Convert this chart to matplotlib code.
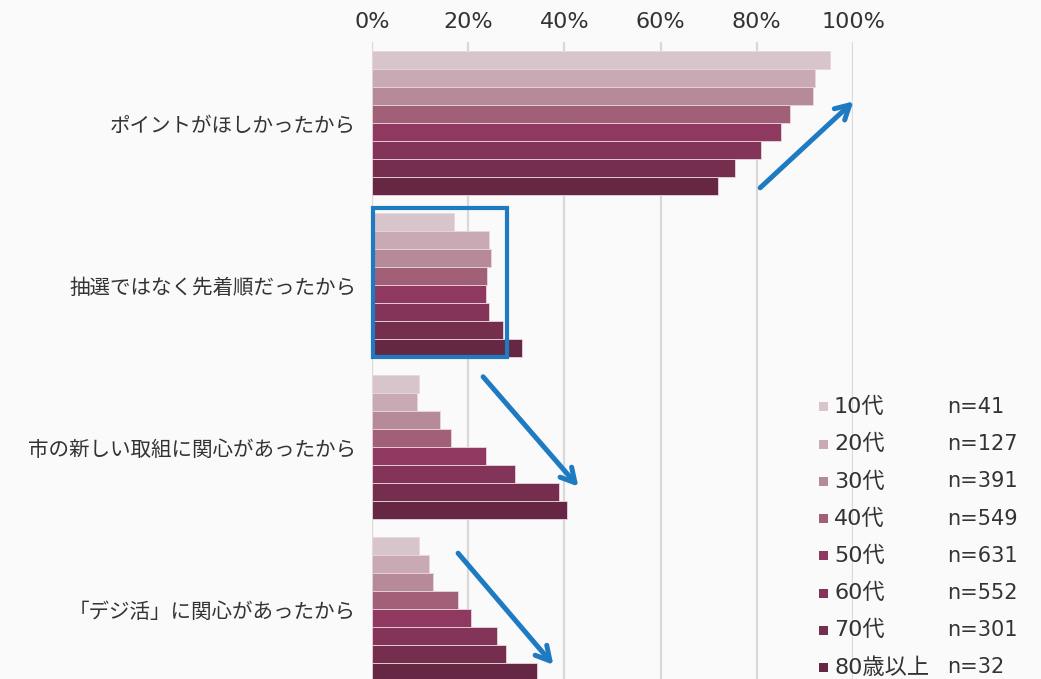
import matplotlib
matplotlib.use("Agg")
import matplotlib.pyplot as plt
from matplotlib.patches import Rectangle

plt.rcParams['font.family'] = ['Noto Sans CJK JP', 'DejaVu Sans']
LATIN = ['DejaVu Sans', 'Noto Sans CJK JP']

# ── data ─────────────────────────────────────────────
reasons = ["ポイントがほしかったから",
           "抽選ではなく先着順だったから",
           "市の新しい取組に関心があったから",
           "「デジ活」に関心があったから"]
ages = ["10代", "20代", "30代", "40代", "50代", "60代", "70代", "80歳以上"]
n_counts = [41, 127, 391, 549, 631, 552, 301, 32]

# percent per reason, one list per age group (10代 ... 80歳以上)
pct_10s = [95.3, 17.1, 9.8, 9.8]
pct_20s = [92.2, 24.3, 9.4, 11.8]
pct_30s = [91.7, 24.8, 14.2, 12.7]
pct_40s = [87.0, 24.0, 16.4, 17.8]
pct_50s = [85.0, 23.6, 23.8, 20.5]
pct_60s = [80.9, 24.4, 29.8, 25.9]
pct_70s = [75.5, 27.2, 38.9, 27.9]
pct_80s = [72.0, 31.2, 40.6, 34.3]
series = [pct_10s, pct_20s, pct_30s, pct_40s, pct_50s, pct_60s, pct_70s, pct_80s]

colors = ["#d8c5cb", "#c9aab4", "#b68a99", "#a25f78",
          "#8f3860", "#843459", "#762e4f", "#662745"]

BG = "#fafafa"
TXT = "#333333"
BLUE = "#1f7bc1"

fig = plt.figure(figsize=(10.41, 6.79), dpi=100, facecolor=BG)
W, H = 1041, 679
ax = fig.add_axes([372 / W, 1 - 690 / H, (853 - 372) / W, 648 / H])
ax.set_facecolor(BG)

# bars: group g, bar k -> y = g*9 + k
for k, (vals, c) in enumerate(zip(series, colors)):
    ys = [g * 9 + k for g in range(len(reasons))]
    ax.barh(ys, vals, height=1.0, color=c, edgecolor="#e9d6dc",
            linewidth=0.6, zorder=3)

ax.set_xlim(0, 100)
ax.set_ylim(35, -1)
ax.xaxis.tick_top()
ax.set_xticks([0, 20, 40, 60, 80, 100])
ax.set_xticklabels([f"{t}%" for t in [0, 20, 40, 60, 80, 100]],
                   family=LATIN)
ax.tick_params(axis="x", length=0, pad=7, labelsize=16, labelcolor=TXT)
ax.grid(axis="x", color="#d9d9d9", linewidth=1.6, zorder=0)
ax.set_axisbelow(True)
ax.set_yticks([g * 9 + 3.5 for g in range(len(reasons))])
ax.set_yticklabels(reasons)
ax.tick_params(axis="y", length=0, pad=11.5, labelsize=14.8, labelcolor=TXT)
for s in ax.spines.values():
    s.set_visible(False)

# ── annotations: arrows and box ──────────────────────
arrows = [((80.7, 7.1), (100.1, 2.3)),
          ((23.1, 17.6), (42.9, 23.7)),
          ((17.9, 27.4), (37.7, 33.6))]
for (x0, y0), (x1, y1) in arrows:
    ax.annotate("", xy=(x1, y1), xytext=(x0, y0), annotation_clip=False,
                arrowprops=dict(arrowstyle="->,head_length=1.0,head_width=0.55",
                                color=BLUE, lw=3.6, shrinkA=0, shrinkB=0),
                zorder=6)
ax.add_patch(Rectangle((0.2, 8.2), 27.9, 8.3, fill=False, edgecolor=BLUE,
                       linewidth=3.0, zorder=6, clip_on=False))

# ── legend (drawn by hand) ───────────────────────────
for i, (a, n, c) in enumerate(zip(ages, n_counts, colors)):
    yy = 1 - (407 + i * 37.2) / H
    fig.patches.append(Rectangle((819 / W, yy - 4.5 / H), 9 / W, 9 / H,
                                 transform=fig.transFigure, facecolor=c,
                                 edgecolor="none", zorder=5))
    fig.text(834 / W, yy, a, fontsize=16, color=TXT, va="center", ha="left",
             family=LATIN)
    fig.text(947 / W, yy, f"n={n}", fontsize=15, color=TXT,
             va="center", ha="left", family=LATIN)

fig.savefig("out.png", dpi=100, facecolor=BG)
